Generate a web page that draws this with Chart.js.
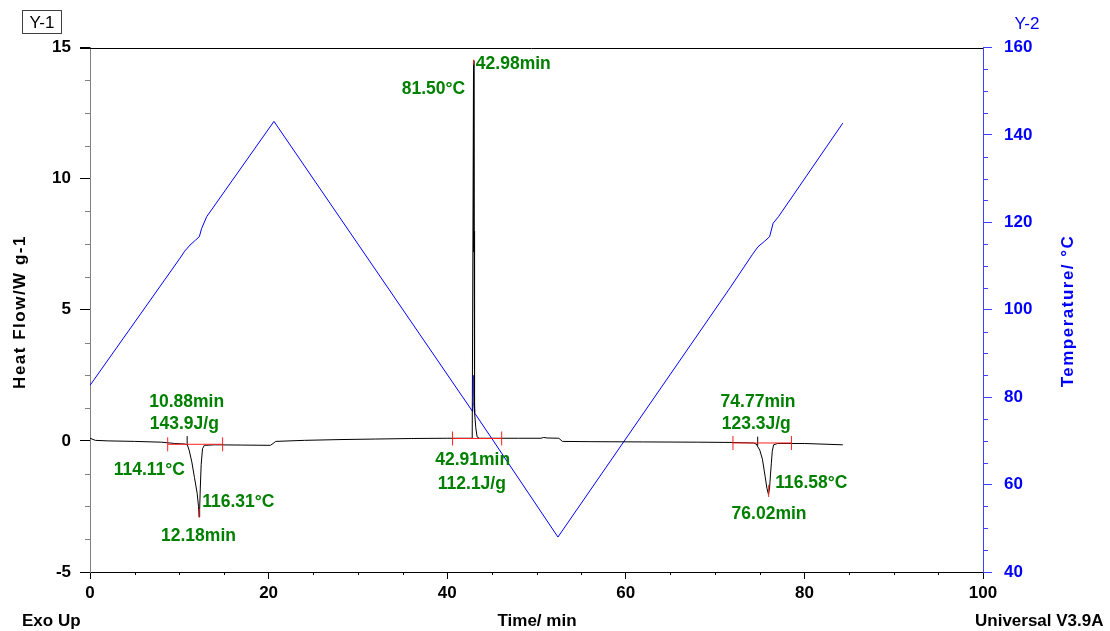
<!DOCTYPE html>
<html>
<head>
<meta charset="utf-8">
<script src="https://cdn.jsdelivr.net/npm/chart.js@4.4.0/dist/chart.umd.min.js"></script>
<style>
html, body { margin: 0; padding: 0; background: #fff; }
canvas { display: block; }
</style>
</head>
<body>
<canvas id="dsc" width="1110" height="631"></canvas>
<script>
// heat flow trace (W/g) against time (min)
const flowTime = [0, 0.6, 2, 5, 8, 9.5, 10.6, 10.9, 11.1, 11.4, 11.7, 12.0, 12.15, 12.22, 12.28, 12.35, 12.45, 12.6, 12.8,
    14, 17, 20.2, 20.5, 20.8, 24, 28, 32, 36, 40, 42.8, 42.95, 42.99, 43.0, 43.01, 43.03, 43.06, 43.1, 43.2, 43.35, 43.6,
    44.5, 48, 50.5, 50.8, 51.2, 52.5, 52.9, 56, 62, 68, 72, 74.3, 74.6, 75.0, 75.3, 75.6, 75.8, 75.98, 76.1, 76.2, 76.3,
    76.4, 76.55, 77, 80, 84.3];
const heatFlow = [0.1, 0.02, 0.0, -0.02, -0.05, -0.1, -0.12, -0.15, -0.35, -0.8, -1.4, -2.0, -2.5, -2.9, -2.6, -1.8, -0.9, -0.3, -0.17,
    -0.15, -0.16, -0.17, -0.1, -0.02, 0.02, 0.05, 0.07, 0.09, 0.1, 0.1, 14.5, 8.2, 7.2, 8.0, 2.5, 1.8, 1.1, 0.5, 0.15, 0.1,
    0.1, 0.1, 0.1, 0.13, 0.11, 0.1, -0.02, -0.03, -0.04, -0.05, -0.06, -0.08, -0.12, -0.35, -0.7, -1.35, -1.8, -2.05, -1.8, -1.3, -0.85,
    -0.4, -0.15, -0.1, -0.1, -0.15];

// sample temperature (°C) against time (min)
const tempTime = [0, 10.08, 10.6, 11.2, 11.8, 12.24, 12.5, 13.07, 20.6, 42.85, 42.92, 42.98, 43.0, 43.1, 52.4,
    71.67, 74.2, 74.8, 75.5, 76.1, 76.5, 77.1, 84.3];
const temperature = [82.7, 111.8, 113.4, 114.8, 115.9, 116.7, 118.6, 121.3, 143.1, 76.7, 78.5, 85.0, 81.0, 76.3, 48.0,
    105.0, 112.7, 114.4, 115.6, 116.7, 119.8, 121.3, 142.7];

// labelled ticks
const timeLabels = [0, 20, 40, 60, 80, 100];
const flowLabels = [-5, 0, 5, 10, 15];
const tempLabels = [40, 60, 80, 100, 120, 140, 160];

// integration limits and baseline level of each peak
const peakStart = [8.7, 40.6, 72.0];
const peakEnd = [14.85, 46.1, 78.55];
const peakBase = [-0.13, 0.09, -0.08];
// onset marks (black) and peak marks (red)
const onsetTime = [10.88, 74.77];
const onsetFlow = [0.01, -0.01];
const peakTime = [12.22, 42.96, 76.0];
const peakFlow = [-2.75, 14.44, -1.91];

// analysis results printed on the plot
const noteText = ['10.88min', '143.9J/g', '114.11°C', '116.31°C', '12.18min', '42.98min', '81.50°C',
    '42.91min', '112.1J/g', '74.77min', '123.3J/g', '116.58°C', '76.02min'];
const noteTime = [10.83, 10.56, 6.64, 16.61, 12.15, 43.21, 42.01, 42.85, 42.76, 74.81, 74.61, 80.77, 76.04];
const noteFlow = [1.30, 0.47, -1.31, -2.54, -3.81, 14.18, 13.23, -0.93, -1.82, 1.30, 0.47, -1.78, -2.96];
const noteAlign = ['center', 'center', 'center', 'center', 'center', 'left', 'right',
    'center', 'center', 'center', 'center', 'center', 'center'];

const GREEN = '#008000';
const BLUE = '#0000ff';
const RED = '#ff2020';
const FONT = "'Liberation Sans', Arial, sans-serif";

Chart.defaults.font.family = FONT;
Chart.defaults.font.size = 17;
Chart.defaults.font.weight = 'bold';
Chart.defaults.color = '#000';

const toPoints = (xs, ys) => xs.map((x, i) => ({ x: x, y: ys[i] }));

const baselineSets = peakStart.map((s, i) => ({
    data: [{ x: s, y: peakBase[i] }, { x: peakEnd[i], y: peakBase[i] }],
    borderColor: RED,
    borderWidth: 1,
    pointStyle: 'line',
    pointRotation: 90,
    pointRadius: 7,
    pointBorderColor: RED,
    pointBorderWidth: 1,
    yAxisID: 'y',
}));

function minorTicks(chart, id, len, color) {
    const scale = chart.scales[id];
    const labels = id === 'x' ? timeLabels : (id === 'y' ? flowLabels : tempLabels);
    const ctx = chart.ctx;
    ctx.save();
    ctx.strokeStyle = color;
    ctx.lineWidth = 1;
    ctx.beginPath();
    scale.ticks.forEach((t) => {
        if (labels.includes(t.value)) return;
        const p = Math.round(scale.getPixelForValue(t.value)) + 0.5;
        if (id === 'x') {
            const y0 = chart.chartArea.bottom;
            ctx.moveTo(p, y0);
            ctx.lineTo(p, y0 + len);
        } else if (id === 'y') {
            const x0 = chart.chartArea.left;
            ctx.moveTo(x0, p);
            ctx.lineTo(x0 - len, p);
        } else {
            const x0 = chart.chartArea.right;
            ctx.moveTo(x0, p);
            ctx.lineTo(x0 + len, p);
        }
    });
    ctx.stroke();
    ctx.restore();
}

const decorations = {
    id: 'decorations',
    afterDatasetsDraw(chart) {
        const ctx = chart.ctx;
        const xs = chart.scales.x;
        const ys = chart.scales.y;
        ctx.save();
        ctx.font = 'bold 17.5px ' + FONT;
        ctx.fillStyle = GREEN;
        ctx.textBaseline = 'alphabetic';
        noteText.forEach((txt, i) => {
            ctx.textAlign = noteAlign[i];
            ctx.fillText(txt, xs.getPixelForValue(noteTime[i]), ys.getPixelForValue(noteFlow[i]));
        });
        ctx.restore();
    },
    afterDraw(chart) {
        const ctx = chart.ctx;
        const area = chart.chartArea;
        minorTicks(chart, 'x', 3, '#000');
        minorTicks(chart, 'y', 5, '#808080');
        minorTicks(chart, 'y2', 5, '#4040ff');

        ctx.save();
        // top frame line
        ctx.strokeStyle = '#000';
        ctx.lineWidth = 1;
        ctx.beginPath();
        ctx.moveTo(area.left - 10, Math.round(area.top) + 0.5);
        ctx.lineTo(area.right, Math.round(area.top) + 0.5);
        ctx.stroke();

        // Y-1 box
        ctx.strokeStyle = '#404040';
        ctx.strokeRect(22.5, 10.5, 39, 23);
        ctx.font = '17px ' + FONT;
        ctx.fillStyle = '#000';
        ctx.textAlign = 'center';
        ctx.textBaseline = 'alphabetic';
        ctx.fillText('Y-1', 42, 28);
        ctx.fillStyle = BLUE;
        ctx.fillText('Y-2', 1027, 29);

        ctx.font = 'bold 17px ' + FONT;
        ctx.fillStyle = '#000';
        ctx.textAlign = 'left';
        ctx.fillText('Exo Up', 22, 626);
        ctx.fillText('Universal V3.9A', 975, 626);
        ctx.textAlign = 'center';
        ctx.fillText('Time/ min', 537, 626);

        ctx.letterSpacing = '1.5px';
        ctx.save();
        ctx.translate(25, 312);
        ctx.rotate(-Math.PI / 2);
        ctx.fillText('Heat Flow/W g-1', 0, 0);
        ctx.restore();

        ctx.save();
        ctx.fillStyle = BLUE;
        ctx.translate(1073, 311);
        ctx.rotate(-Math.PI / 2);
        ctx.fillText('Temperature/ °C', 0, 0);
        ctx.restore();
        ctx.restore();
    }
};

new Chart(document.getElementById('dsc'), {
    type: 'line',
    data: {
        datasets: [
            ...baselineSets,
            {
                data: toPoints(peakTime, peakFlow),
                showLine: false,
                pointStyle: 'line',
                pointRotation: 90,
                pointRadius: [4.5, 2.5, 6],
                pointBorderColor: RED,
                pointBorderWidth: 1,
                yAxisID: 'y',
            },
            {
                data: toPoints(onsetTime, onsetFlow),
                showLine: false,
                pointStyle: 'line',
                pointRotation: 90,
                pointRadius: 4.5,
                pointBorderColor: '#000',
                pointBorderWidth: 1,
                yAxisID: 'y',
            },
            {
                label: 'Heat Flow',
                data: toPoints(flowTime, heatFlow),
                borderColor: '#000',
                borderWidth: 1,
                pointRadius: 0,
                tension: 0,
                yAxisID: 'y',
            },
            {
                label: 'Temperature',
                data: toPoints(tempTime, temperature),
                borderColor: BLUE,
                borderWidth: 1,
                pointRadius: 0,
                tension: 0,
                yAxisID: 'y2',
            },
        ]
    },
    options: {
        responsive: false,
        devicePixelRatio: 1,
        animation: false,
        layout: { padding: { top: 47.5, left: 0, right: 0, bottom: 0 } },
        plugins: {
            legend: { display: false },
            tooltip: { enabled: false },
        },
        scales: {
            x: {
                type: 'linear',
                min: 0,
                max: 100,
                afterFit: (s) => { s.height = 59; },
                border: { display: true, color: '#000', width: 1 },
                grid: {
                    drawOnChartArea: false,
                    tickLength: 7,
                    tickColor: (c) => (c.tick && timeLabels.includes(c.tick.value)) ? '#000' : 'rgba(0,0,0,0)',
                },
                ticks: {
                    stepSize: 5,
                    autoSkip: false,
                    maxRotation: 0,
                    padding: 4,
                    color: '#000',
                    callback: (v) => timeLabels.includes(v) ? String(v) : '',
                },
            },
            y: {
                type: 'linear',
                position: 'left',
                min: -5,
                max: 15,
                afterFit: (s) => { s.width = 90; },
                border: { display: true, color: '#808080', width: 1 },
                grid: {
                    drawOnChartArea: false,
                    tickLength: 10,
                    tickColor: (c) => (c.tick && flowLabels.includes(c.tick.value)) ? '#000' : 'rgba(0,0,0,0)',
                },
                ticks: {
                    stepSize: 1.25,
                    autoSkip: false,
                    padding: 9,
                    color: '#000',
                    callback: (v) => flowLabels.includes(v) ? String(v) : '',
                },
            },
            y2: {
                type: 'linear',
                position: 'right',
                min: 40,
                max: 160,
                afterFit: (s) => { s.width = 127; },
                border: { display: true, color: '#4040ff', width: 1 },
                grid: {
                    drawOnChartArea: false,
                    tickLength: 9,
                    tickColor: (c) => (c.tick && tempLabels.includes(c.tick.value)) ? '#4040ff' : 'rgba(0,0,0,0)',
                },
                ticks: {
                    stepSize: 5,
                    autoSkip: false,
                    padding: 12,
                    color: BLUE,
                    callback: (v) => tempLabels.includes(v) ? String(v) : '',
                },
            },
        },
    },
    plugins: [decorations],
});
</script>
</body>
</html>
